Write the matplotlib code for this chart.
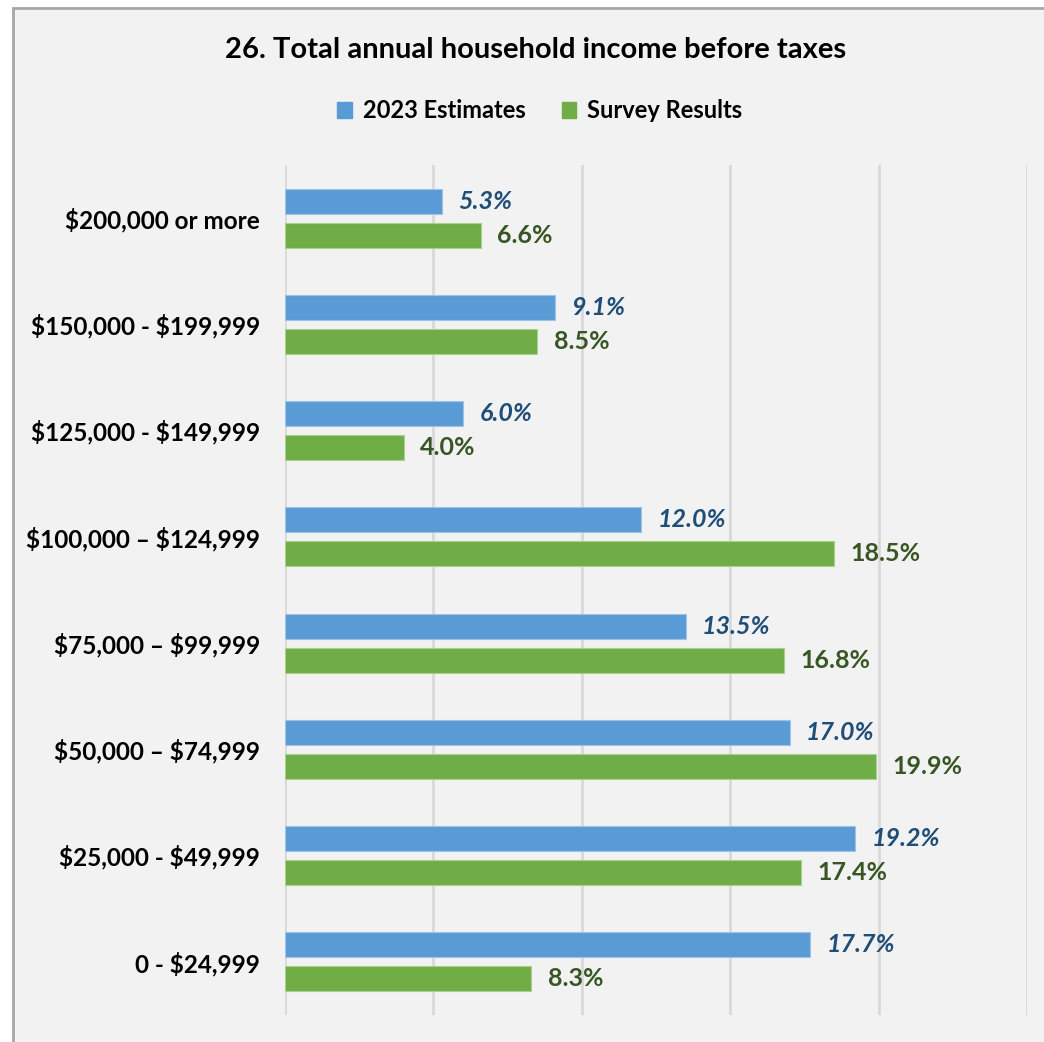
import matplotlib.pyplot as plt
import matplotlib.patches as patches
import numpy as np

# categories listed bottom to top
categories = ['0 - $24,999', '$25,000 - $49,999', '$50,000 \u2013 $74,999',
              '$75,000 \u2013 $99,999', '$100,000 \u2013 $124,999',
              '$125,000 - $149,999', '$150,000 - $199,999', '$200,000 or more']
estimates_2023 = [17.7, 19.2, 17.0, 13.5, 12.0, 6.0, 9.1, 5.3]
survey_results = [8.3, 17.4, 19.9, 16.8, 18.5, 4.0, 8.5, 6.6]
x_ticks = [0, 5, 10, 15, 20, 25]

BLUE = '#5b9bd5'
GREEN = '#70ad47'
BLUE_TXT = '#1f4e79'
GREEN_TXT = '#375623'
BG = '#f2f2f2'
FONT = ['Lato', 'DejaVu Sans']

plt.rcParams['font.family'] = FONT
plt.rcParams['text.parse_math'] = False  # labels contain dollar signs

W, H = 1044, 1042
fig = plt.figure(figsize=(W / 100, H / 100), dpi=100)
fig.patch.set_facecolor('white')

# chart background + border (drawn behind the axes)
fig.patches.append(patches.Rectangle((13 / W, -0.01), 1.0, (H - 8) / H + 0.01,
                                     transform=fig.transFigure, facecolor=BG,
                                     edgecolor='#a6a6a6', linewidth=2, zorder=-10))

ax = fig.add_axes([285 / W, 27 / H, 742 / W, 850 / H])
ax.set_facecolor('none')
ax.set_zorder(5)

y = np.arange(len(categories))
h = 0.235
off = 0.16
ax.barh(y + off, estimates_2023, height=h, color=BLUE, edgecolor='#9dc3e6',
        linewidth=0.8, zorder=3)
ax.barh(y - off, survey_results, height=h, color=GREEN, edgecolor='#a9d18e',
        linewidth=0.8, zorder=3)

for yi, v in zip(y, estimates_2023):
    ax.text(v + 0.55, yi + off, f'{v:.1f}%', ha='left', va='center', fontsize=18,
            fontweight='bold', fontstyle='italic', color=BLUE_TXT)
for yi, v in zip(y, survey_results):
    ax.text(v + 0.55, yi - off, f'{v:.1f}%', ha='left', va='center', fontsize=18,
            fontweight='bold', color=GREEN_TXT)

ax.set_xlim(0, 25)
ax.set_ylim(-0.5, len(categories) - 0.5)
ax.set_xticks(x_ticks)
ax.set_xticklabels([])
ax.tick_params(axis='x', length=0)
ax.set_yticks(y)
ax.set_yticklabels(categories, fontsize=17.5, fontweight='bold')
ax.tick_params(axis='y', length=0, pad=18)
ax.grid(axis='x', color='#d9d9d9', linewidth=2, zorder=0)
for s in ax.spines.values():
    s.set_visible(False)

fig.text(536 / W, 1 - 50 / H, '26. Total annual household income before taxes',
         ha='center', va='center', fontsize=21, fontweight='bold')

# legend
leg_handles = [patches.Patch(color=BLUE, label='2023 Estimates'),
               patches.Patch(color=GREEN, label='Survey Results')]
fig.legend(handles=leg_handles, loc='center', bbox_to_anchor=(540 / W, 1 - 111 / H),
           ncol=2, frameon=False, prop={'weight': 'bold', 'size': 17},
           handlelength=0.6, handleheight=0.65, handletextpad=0.5, columnspacing=1.5)

fig.savefig('out.png', dpi=100, facecolor=fig.get_facecolor())
